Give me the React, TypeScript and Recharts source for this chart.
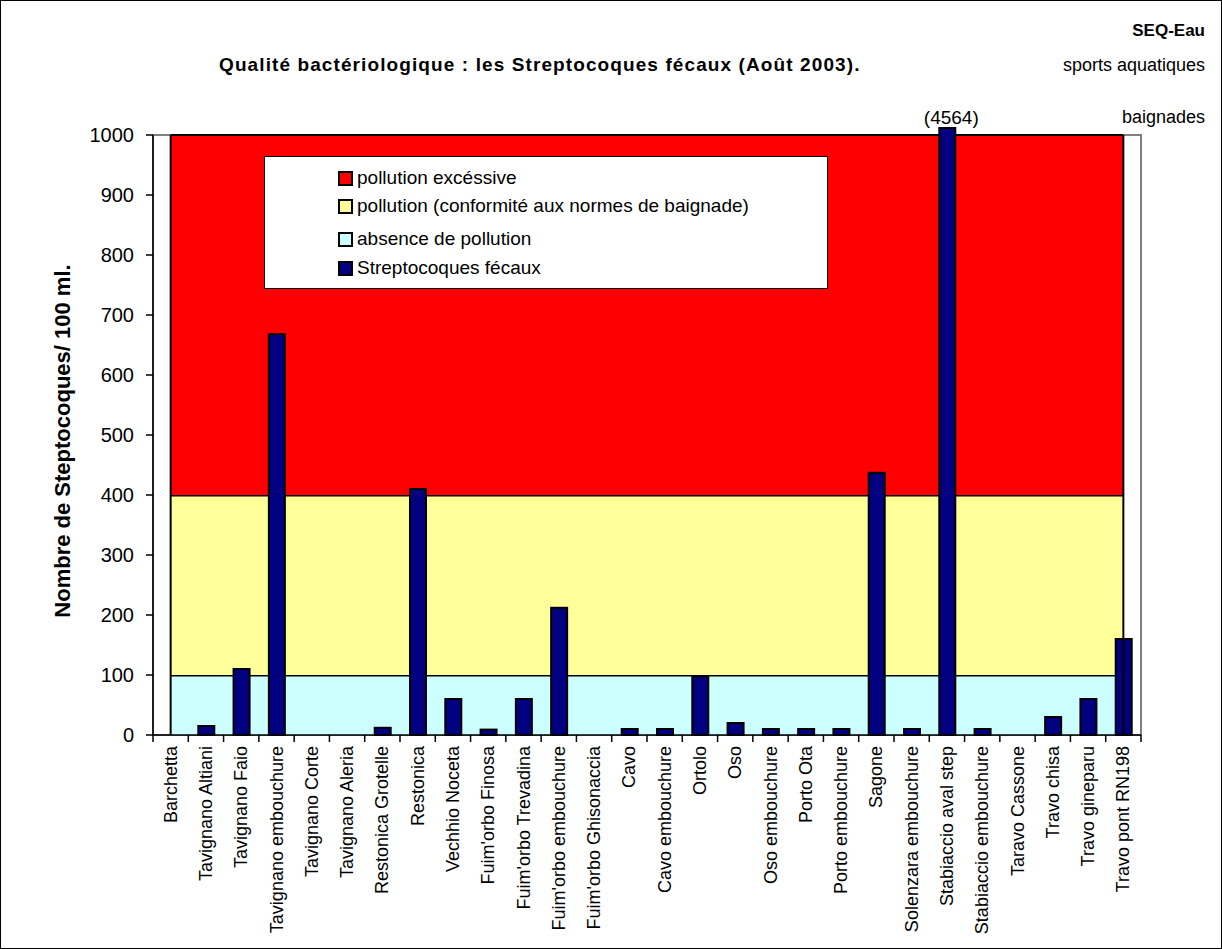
import React from 'react'
import {Area, Bar, ComposedChart, Label, ReferenceArea, ReferenceLine, XAxis, YAxis} from 'recharts'

const categories = [
    'Barchetta', 'Tavignano Altiani', 'Tavignano Faio', 'Tavignano embouchure', 'Tavignano Corte',
    'Tavignano Aleria', 'Restonica Grotelle', 'Restonica', 'Vechhio Noceta', "Fuim'orbo Finosa",
    "Fuim'orbo Trevadina", "Fuim'orbo embouchure", "Fuim'orbo Ghisonaccia", 'Cavo', 'Cavo embouchure',
    'Ortolo', 'Oso', 'Oso embouchure', 'Porto Ota', 'Porto embouchure', 'Sagone',
    'Solenzara embouchure', 'Stabiaccio aval step', 'Stabiaccio embouchure', 'Taravo Cassone',
    'Travo chisa', 'Travo gineparu', 'Travo pont RN198',
]

// Streptocoques fécaux / 100 ml
const streptocoques = [
    0, 15, 110, 668, 0, 0, 12, 410, 60, 9, 60, 212, 0, 10, 10,
    98, 20, 10, 10, 10, 437, 10, 4564, 10, 0, 30, 60, 160,
]

// upper limit of each quality band
const bandLimits = {absence: 100, conformite: 400, excessive: 1000}
const yTicks = [0, 100, 200, 300, 400, 500, 600, 700, 800, 900, 1000]
const Y_MAX = 1000

const FONT = "Arial, 'Liberation Sans', sans-serif"
const CHART_W = 1222
const CHART_H = 949
const MARGIN = {top: 135, right: 81, bottom: 0, left: 0}
const Y_AXIS_W = 153
const BAND = (CHART_W - Y_AXIS_W - MARGIN.right) / categories.length

const data = categories.map((name, i) => ({
    name,
    raw: streptocoques[i],
    value: Math.min(streptocoques[i], Y_MAX),
    absence: bandLimits.absence,
    conformite: bandLimits.conformite - bandLimits.absence,
    excessive: bandLimits.excessive - bandLimits.conformite,
}))

const legendItems = [
    {label: 'pollution excéssive', color: '#FF0000'},
    {label: 'pollution (conformité aux normes de baignade)', color: '#FFFF99'},
    {label: 'absence de pollution', color: '#CCFFFF'},
    {label: 'Streptocoques fécaux', color: '#000080'},
]
const legendRowCenters = [21, 49, 82, 111]

const CategoryTick = ({x, y, payload, index}: any) => {
    const half = BAND / 2
    return (
        <g>
            <line x1={x - half} y1={y} x2={x - half} y2={y + 7} stroke="#000" strokeWidth={1.5}/>
            {index === categories.length - 1 && (
                <line x1={x + half} y1={y} x2={x + half} y2={y + 7} stroke="#000" strokeWidth={1.5}/>
            )}
            <text
                x={x}
                y={y + 11}
                transform={`rotate(-90 ${x} ${y + 11})`}
                textAnchor="end"
                dominantBaseline="central"
                fontSize={18}
                fontFamily={FONT}
                fill="#000"
            >
                {payload.value}
            </text>
        </g>
    )
}

const StreptoBar = (props: any) => {
    const {x, y, width, height, payload} = props
    if (!height || height <= 0) return <g/>
    const over = payload.raw > Y_MAX
    const top = over ? y - 7 : y
    const h = over ? height + 7 : height
    return (
        <g>
            <rect x={x} y={top} width={width} height={h} fill="#000080" stroke="#000" strokeWidth={2}/>
            {over && (
                <text x={x + width / 2 + 4} y={y - 11} textAnchor="middle" fontSize={19} fontFamily={FONT} fill="#000">
                    ({payload.raw})
                </text>
            )}
        </g>
    )
}

const LegendBox = () => (
    <div style={{
        position: 'absolute', left: 263, top: 155, width: 564, height: 133, background: '#fff',
        border: '1px solid #000', boxSizing: 'border-box', fontFamily: FONT, fontSize: 19, color: '#000',
    }}>
        {legendItems.map((item, i) => (
            <div key={item.label} style={{
                position: 'absolute', left: 73, top: legendRowCenters[i] - 12, height: 24,
                display: 'flex', alignItems: 'center', whiteSpace: 'nowrap',
            }}>
                <span style={{
                    width: 11, height: 11, background: item.color, border: '2px solid #000',
                    marginRight: 4, display: 'inline-block',
                }}/>
                <span>{item.label}</span>
            </div>
        ))}
    </div>
)

export default function App() {
    return (
        <div style={{
            position: 'absolute', left: 0, top: 0, width: CHART_W, height: CHART_H,
            border: '1px solid #000', boxSizing: 'border-box', background: '#fff', fontFamily: FONT,
        }}>
            <div style={{position: 'absolute', right: 16, top: 20, fontWeight: 'bold', fontSize: 17}}>SEQ-Eau</div>
            <div style={{
                position: 'absolute', left: 218, top: 53, fontWeight: 'bold', fontSize: 19,
                letterSpacing: 1.1, whiteSpace: 'nowrap',
            }}>
                Qualité bactériologique : les Streptocoques fécaux (Août 2003).
            </div>
            <div style={{position: 'absolute', right: 16, top: 54, fontSize: 18}}>sports aquatiques</div>
            <div style={{position: 'absolute', right: 16, top: 106, fontSize: 18}}>baignades</div>
            <div style={{position: 'absolute', left: -1, top: -1}}>
                <ComposedChart width={CHART_W} height={CHART_H} data={data} margin={MARGIN}>
                    <ReferenceArea y1={0} y2={Y_MAX} fill="none" stroke="#808080" strokeWidth={2} ifOverflow="visible"/>
                    <XAxis
                        dataKey="name"
                        height={214}
                        interval={0}
                        tickLine={false}
                        tickSize={0}
                        tickMargin={0}
                        axisLine={{stroke: '#000', strokeWidth: 1.5}}
                        tick={<CategoryTick/>}
                    />
                    <YAxis
                        width={Y_AXIS_W}
                        domain={[0, Y_MAX]}
                        ticks={yTicks}
                        interval={0}
                        tickSize={7}
                        tickMargin={12}
                        axisLine={{stroke: '#000', strokeWidth: 1.5}}
                        tickLine={{stroke: '#000', strokeWidth: 1.5}}
                        tick={{fontSize: 20, fill: '#000', fontFamily: FONT}}
                    >
                        <Label
                            content={({viewBox}: any) => {
                                const cy = viewBox.y + viewBox.height / 2 + 6
                                return (
                                    <text x={62} y={cy} transform={`rotate(-90 62 ${cy})`} textAnchor="middle"
                                          dominantBaseline="central" fontSize={22} fontWeight="bold" fontFamily={FONT}>
                                        Nombre de Steptocoques/ 100 ml.
                                    </text>
                                )
                            }}
                        />
                    </YAxis>
                    <Area dataKey="absence" stackId="bands" type="linear" fill="#CCFFFF" fillOpacity={1}
                          stroke="#000" strokeWidth={3} isAnimationActive={false} dot={false} activeDot={false}/>
                    <Area dataKey="conformite" stackId="bands" type="linear" fill="#FFFF99" fillOpacity={1}
                          stroke="#000" strokeWidth={3} isAnimationActive={false} dot={false} activeDot={false}/>
                    <Area dataKey="excessive" stackId="bands" type="linear" fill="#FF0000" fillOpacity={1}
                          stroke="#000" strokeWidth={2} isAnimationActive={false} dot={false} activeDot={false}/>
                    <ReferenceLine x={categories[0]} stroke="#000" strokeWidth={2}/>
                    <ReferenceLine x={categories[categories.length - 1]} stroke="#000" strokeWidth={2}/>
                    <Bar dataKey="value" barSize={16} shape={<StreptoBar/>} isAnimationActive={false}/>
                </ComposedChart>
            </div>
            <LegendBox/>
        </div>
    )
}
